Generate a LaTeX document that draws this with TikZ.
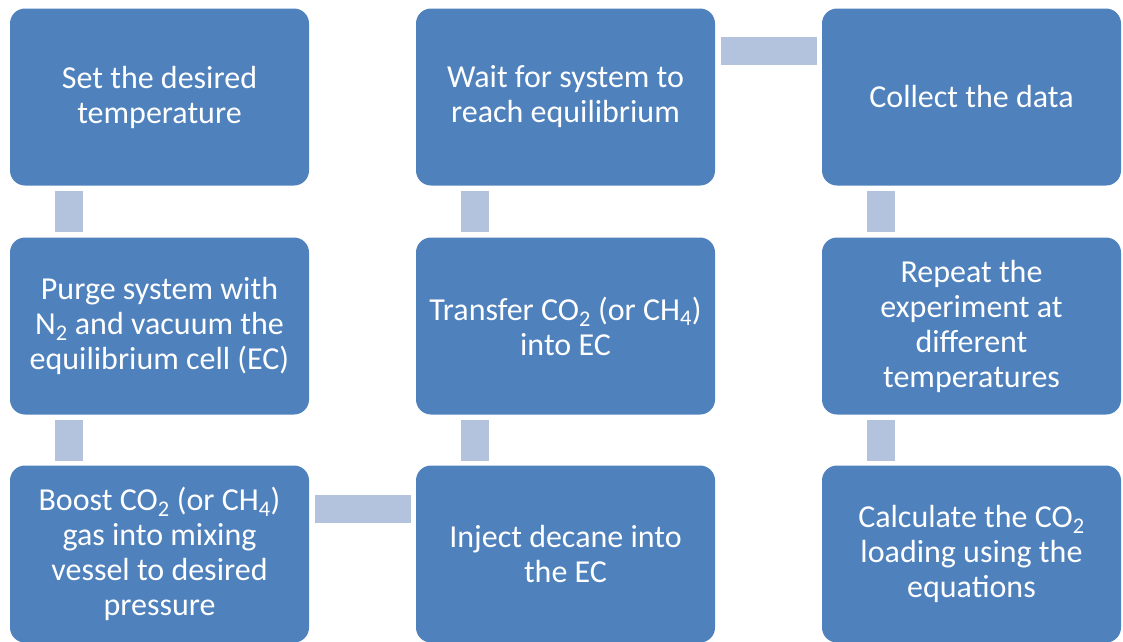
\documentclass[tikz,border=0pt]{standalone}
\usepackage{fontspec}
\setmainfont{Carlito}
\usetikzlibrary{calc}
\definecolor{boxblue}{RGB}{79,129,189}
\definecolor{linkblue}{RGB}{179,195,221}
\begin{document}
\begin{tikzpicture}[x=1pt,y=-1pt,
  stepbox/.style={fill=boxblue, rounded corners=15pt, draw=none, inner sep=0pt,
    minimum width=299pt, minimum height=177pt, text=white, align=center,
    font=\fontsize{32}{35}\selectfont},
  vlink/.style={fill=linkblue, draw=none, inner sep=0pt, minimum width=28pt, minimum height=41pt},
  hlink/.style={fill=linkblue, draw=none, inner sep=0pt, minimum width=96pt, minimum height=28pt}]
\useasboundingbox (0,0) rectangle (1123,641);
% boxes
\node[stepbox] (a1) at (159.5,97) {Set the desired\\temperature};
\node[stepbox] (a2) at (159.5,326) {Purge system with\\N\textsubscript{2} and vacuum the\\equilibrium cell (EC)};
\node[stepbox] (a3) at (159.5,554) {Boost CO\textsubscript{2} (or CH\textsubscript{4})\\gas into mixing\\vessel to desired\\pressure};
\node[stepbox] (b3) at (565.5,554) {Inject decane into\\the EC};
\node[stepbox] (b2) at (565.5,326) {Transfer CO\textsubscript{2} (or CH\textsubscript{4})\\into EC};
\node[stepbox] (b1) at (565.5,97) {Wait for system to\\reach equilibrium};
\node[stepbox] (c1) at (971.5,97) {Collect the data};
\node[stepbox] (c2) at (971.5,326) {Repeat the\\experiment at\\different\\temperatures};
\node[stepbox] (c3) at (971.5,554) {Calculate the CO\textsubscript{2}\\loading using the\\equations};
% connectors
\node[vlink] (l12) at ($(a1.south)!0.5!(a2.north)+(-90.5,0)$) {};
\node[vlink] (l23) at ($(a2.south)!0.5!(a3.north)+(-90.5,0)$) {};
\node[hlink] (lab) at ($(a3.east)!0.5!(b3.west)+(0,-45)$) {};
\node[vlink] (lb32) at ($(b3.north)!0.5!(b2.south)+(-90.5,0)$) {};
\node[vlink] (lb21) at ($(b2.north)!0.5!(b1.south)+(-90.5,0)$) {};
\node[hlink] (lbc) at ($(b1.east)!0.5!(c1.west)+(0,-46)$) {};
\node[vlink] (lc12) at ($(c1.south)!0.5!(c2.north)+(-90.5,0)$) {};
\node[vlink] (lc23) at ($(c2.south)!0.5!(c3.north)+(-90.5,0)$) {};
\end{tikzpicture}
\end{document}
